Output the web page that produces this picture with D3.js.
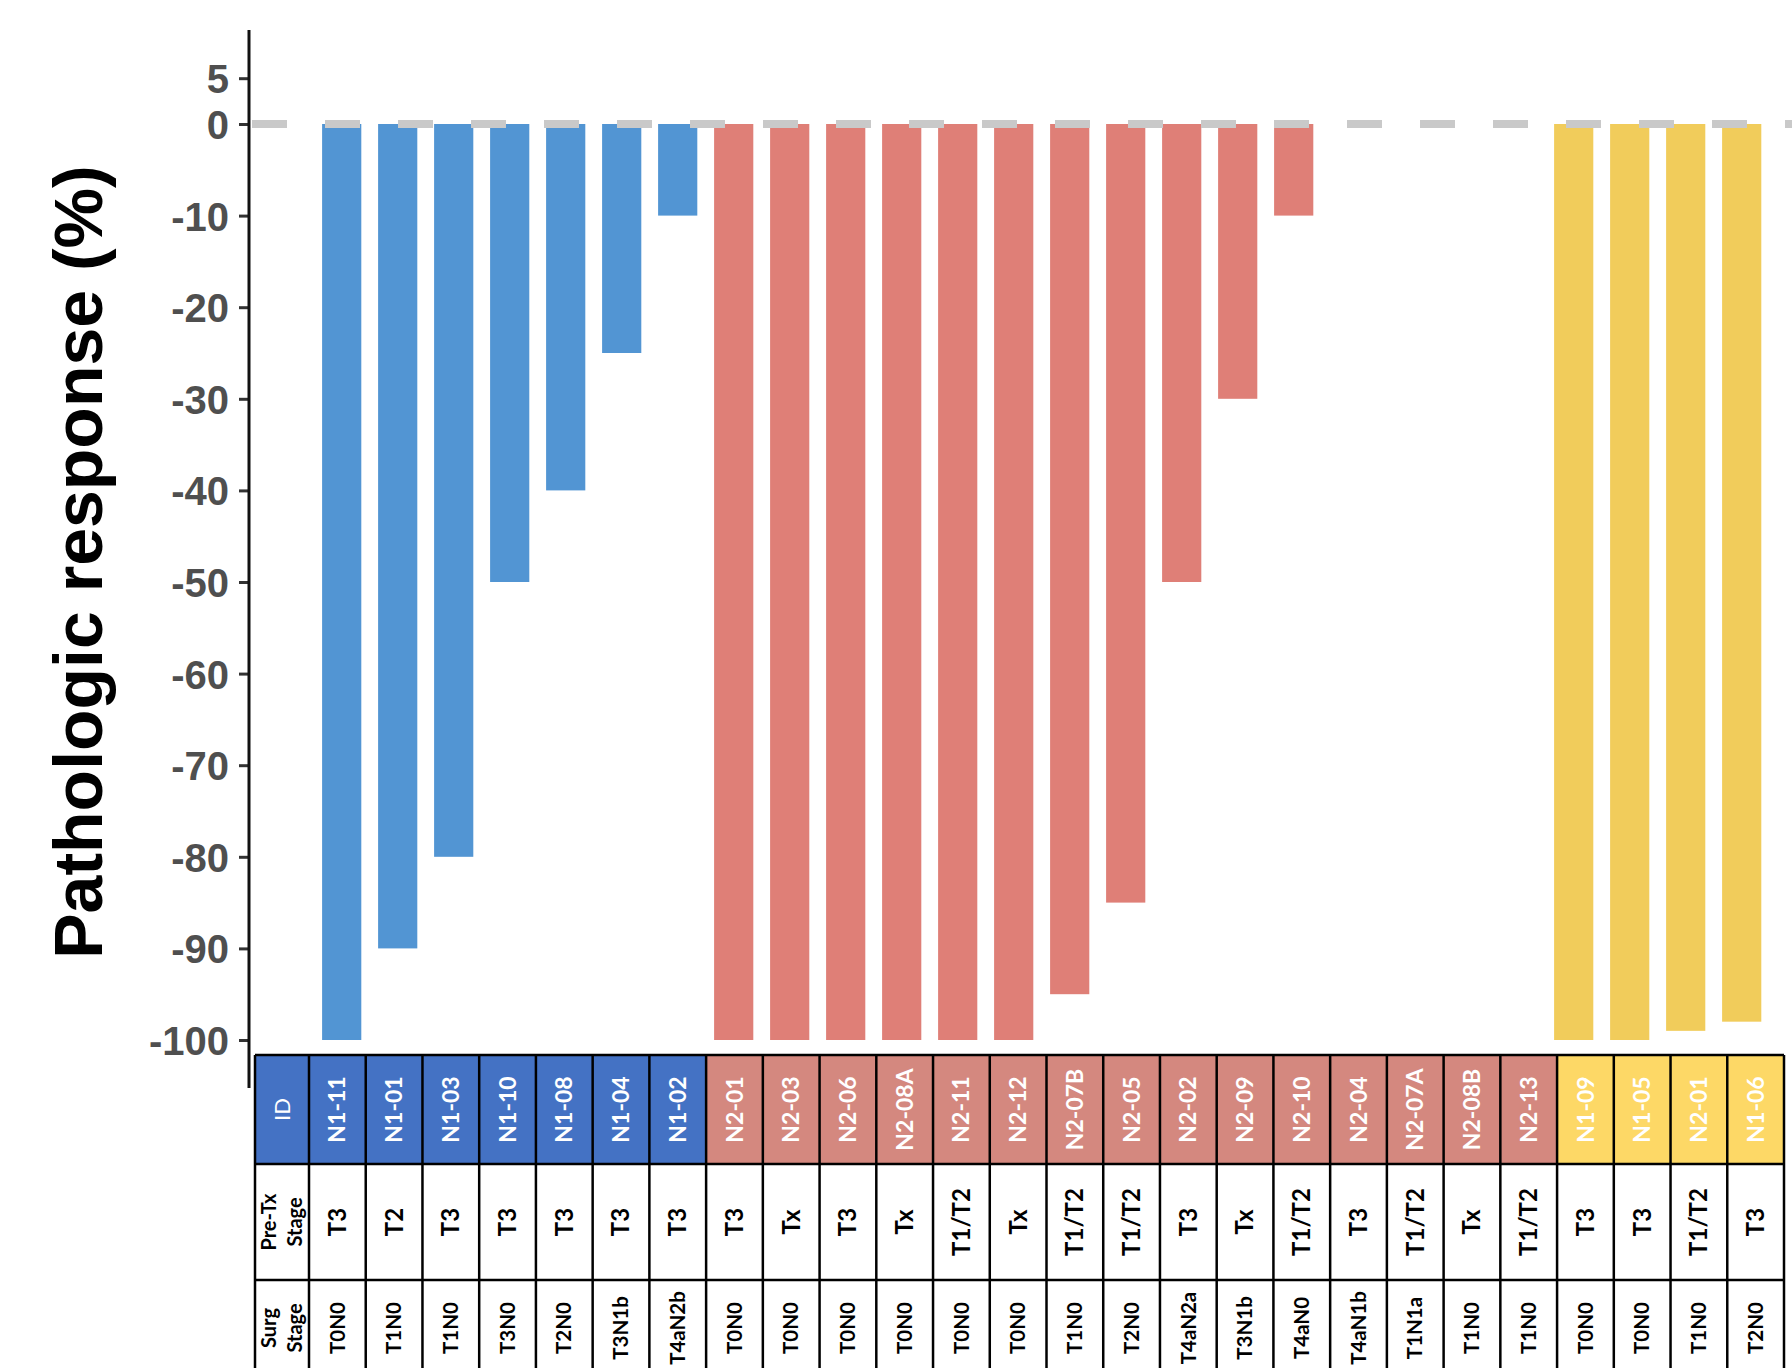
<!DOCTYPE html>
<html>
<head>
<meta charset="utf-8">
<script src="https://cdn.jsdelivr.net/npm/d3@7"></script>
<style>
  html, body { margin: 0; padding: 0; background: #fff; }
  svg { display: block; }
</style>
</head>
<body>
<svg id="chart"></svg>
<script>
var width = 1792;
var height = 1368;

// patients, in the order of the waterfall
var ids = ["N1-11", "N1-01", "N1-03", "N1-10", "N1-08", "N1-04", "N1-02",
           "N2-01", "N2-03", "N2-06", "N2-08A", "N2-11", "N2-12", "N2-07B", "N2-05",
           "N2-02", "N2-09", "N2-10", "N2-04", "N2-07A", "N2-08B", "N2-13",
           "N1-09", "N1-05", "N2-01", "N1-06"];
// cohort of each patient (0 = blue, 1 = red, 2 = yellow)
var groups = [0, 0, 0, 0, 0, 0, 0,
              1, 1, 1, 1, 1, 1, 1, 1, 1, 1, 1, 1, 1, 1, 1,
              2, 2, 2, 2];
// pathologic response in %, null = no bar
var responses = [-100, -90, -80, -50, -40, -25, -10,
                 -100, -100, -100, -100, -100, -100, -95, -85, -50, -30, -10, null, null, null, null,
                 -100, -100, -99, -98];
var preTxStage = ["T3", "T2", "T3", "T3", "T3", "T3", "T3",
                  "T3", "Tx", "T3", "Tx", "T1/T2", "Tx", "T1/T2", "T1/T2", "T3", "Tx", "T1/T2", "T3", "T1/T2", "Tx", "T1/T2",
                  "T3", "T3", "T1/T2", "T3"];
var surgStage = ["T0N0", "T1N0", "T1N0", "T3N0", "T2N0", "T3N1b", "T4aN2b",
                 "T0N0", "T0N0", "T0N0", "T0N0", "T0N0", "T0N0", "T1N0", "T2N0", "T4aN2a", "T3N1b", "T4aN0", "T4aN1b", "T1N1a", "T1N0", "T1N0",
                 "T0N0", "T0N0", "T1N0", "T2N0"];
var yTicks = [5, 0, -10, -20, -30, -40, -50, -60, -70, -80, -90, -100];

var barColors = ["#5295d3", "#df7f77", "#f1cc5b"];
var cellColors = ["#4472c4", "#d4887f", "#fdd866"];

var svg = d3.select("#chart")
  .attr("width", width)
  .attr("height", height);

var idx = d3.range(ids.length);

////////////////////////////////////////////////////////////////////////////////
//                                                                     Scales //
////////////////////////////////////////////////////////////////////////////////

var x = d3.scaleBand()
  .domain(idx)
  .range([313.7, 1769.7])
  .paddingInner(0.3)
  .paddingOuter(0.15);

var y = d3.scaleLinear()
  .domain([-100, 0])
  .range([1040, 124]);

// table columns (slightly wider than the bar slots)
var col = d3.scaleBand()
  .domain(idx)
  .range([309, 1784]);

////////////////////////////////////////////////////////////////////////////////
//                                                                       Bars //
////////////////////////////////////////////////////////////////////////////////

svg.append("g")
  .selectAll("rect")
  .data(idx.filter(function(i) { return responses[i] !== null; }))
  .join("rect")
    .attr("x", function(i) { return x(i); })
    .attr("y", y(0))
    .attr("width", x.bandwidth())
    .attr("height", function(i) { return y(responses[i]) - y(0); })
    .attr("fill", function(i) { return barColors[groups[i]]; });

// dashed zero line, drawn over the bar tops
svg.append("line")
  .attr("x1", 252)
  .attr("x2", width)
  .attr("y1", y(0))
  .attr("y2", y(0))
  .attr("stroke", "#c9c9c9")
  .attr("stroke-width", 8)
  .attr("stroke-dasharray", "35,38");

////////////////////////////////////////////////////////////////////////////////
//                                                                     Y axis //
////////////////////////////////////////////////////////////////////////////////

var yAxis = svg.append("g")
  .attr("transform", "translate(249,0)")
  .call(d3.axisLeft(y)
    .tickValues(yTicks)
    .tickFormat(function(d) { return String(d); })  // plain hyphen, not U+2212
    .tickSize(10)
    .tickPadding(10));

yAxis.select(".domain").remove();
yAxis.selectAll(".tick line")
  .attr("stroke", "#333")
  .attr("stroke-width", 3);
yAxis.selectAll(".tick text")
  .attr("fill", "#4f4f4f")
  .attr("dy", "0.36em")
  .style("font-family", "'Liberation Sans', Arial, sans-serif")
  .style("font-weight", "bold")
  .style("font-size", "40px");

svg.append("line")
  .attr("x1", 249).attr("x2", 249)
  .attr("y1", 30).attr("y2", 1088)
  .attr("stroke", "#111")
  .attr("stroke-width", 3);

svg.append("text")
  .attr("transform", "translate(102,562) rotate(-90)")
  .attr("text-anchor", "middle")
  .style("font-family", "'Liberation Sans', Arial, sans-serif")
  .style("font-weight", "bold")
  .style("font-size", "68px")
  .attr("fill", "#000")
  .text("Pathologic response (%)");

////////////////////////////////////////////////////////////////////////////////
//                                                                      Table //
////////////////////////////////////////////////////////////////////////////////

var rows = [1055, 1164, 1280, 1376];
var tableFont = "Lato, 'Open Sans', sans-serif";
var table = svg.append("g");

// header label column
table.append("rect")
  .attr("x", 255).attr("y", rows[0])
  .attr("width", 309 - 255).attr("height", rows[1] - rows[0])
  .attr("fill", cellColors[0]);

// id cells
table.selectAll("rect.id")
  .data(idx)
  .join("rect")
    .attr("class", "id")
    .attr("x", function(i) { return col(i); })
    .attr("y", rows[0])
    .attr("width", col.bandwidth())
    .attr("height", rows[1] - rows[0])
    .attr("fill", function(i) { return cellColors[groups[i]]; });

function rotatedText(g, cx, cy, txt, size, color, weight) {
  return g.append("text")
    .attr("transform", "translate(" + cx + "," + cy + ") rotate(-90)")
    .attr("text-anchor", "middle")
    .attr("dy", "0.35em")
    .style("font-family", tableFont)
    .style("font-weight", weight || "bold")
    .style("font-size", size + "px")
    .attr("fill", color)
    .text(txt);
}

var rowMid = [(rows[0] + rows[1]) / 2, (rows[1] + rows[2]) / 2, (rows[2] + rows[3]) / 2];

rotatedText(table, 282, rowMid[0], "ID", 22, "#fff", "normal");
rotatedText(table, 269, rowMid[1], "Pre-Tx", 20, "#000");
rotatedText(table, 295, rowMid[1], "Stage", 20, "#000");
rotatedText(table, 269, rowMid[2], "Surg", 20, "#000");
rotatedText(table, 295, rowMid[2], "Stage", 20, "#000");

idx.forEach(function(i) {
  var cx = col(i) + col.bandwidth() / 2;
  rotatedText(table, cx, rowMid[0], ids[i], 23, "#fff");
  rotatedText(table, cx, rowMid[1], preTxStage[i], 24, "#000");
  rotatedText(table, cx, rowMid[2], surgStage[i], 20.5, "#000");
});

// grid lines
var vLines = [255].concat(idx.map(function(i) { return col(i); })).concat([1784]);
table.selectAll("line.v")
  .data(vLines)
  .join("line")
    .attr("class", "v")
    .attr("x1", function(d) { return d; })
    .attr("x2", function(d) { return d; })
    .attr("y1", rows[0])
    .attr("y2", rows[3])
    .attr("stroke", "#000")
    .attr("stroke-width", 2.5);

table.selectAll("line.h")
  .data(rows)
  .join("line")
    .attr("class", "h")
    .attr("x1", 255)
    .attr("x2", 1784)
    .attr("y1", function(d) { return d; })
    .attr("y2", function(d) { return d; })
    .attr("stroke", "#000")
    .attr("stroke-width", 2.5);
</script>
</body>
</html>
